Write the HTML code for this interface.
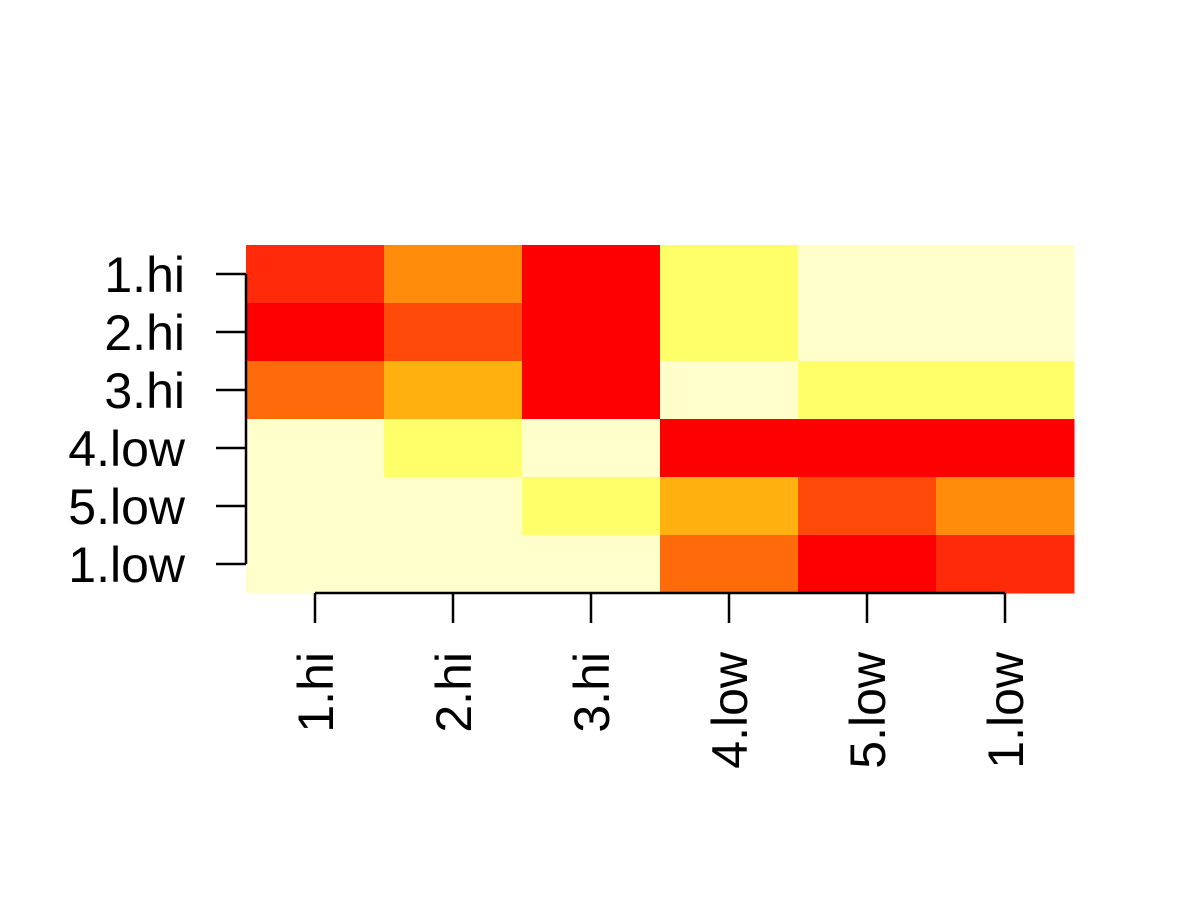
<!DOCTYPE html>
<html><head><meta charset="utf-8"><style>body{margin:0;background:#fff}svg{display:block}</style></head>
<body>
<svg id="c" width="1200" height="900" font-family="Liberation Sans, sans-serif">
<g id="cells"></g>
<g id="axes" stroke="#000" stroke-width="2.5" fill="none"></g>
<g id="labels" font-size="50" fill="#000"></g>
</svg>
<script>
const rowLabels = ["1.hi","2.hi","3.hi","4.low","5.low","1.low"];
const colLabels = ["1.hi","2.hi","3.hi","4.low","5.low","1.low"];
const palette = ["#FF0000","#FF2A0A","#FF4A0A","#FF6A0A","#FF8C0A","#FFB20F","#FFFF6A","#FFFFCC"];
const values = [
 [1,4,0,6,7,7],
 [0,2,0,6,7,7],
 [3,5,0,7,6,6],
 [7,6,7,0,0,0],
 [7,7,6,5,2,4],
 [7,7,7,3,0,1]
];
const NS="http://www.w3.org/2000/svg";
const L=246,R=1074,T=245,B=593;
const nC=colLabels.length,nR=rowLabels.length;
const cw=(R-L)/nC,rh=(B-T)/nR;
const xc=i=>L+cw*(i+0.5), yc=j=>T+rh*(j+0.5);
function mk(t,a,p){const e=document.createElementNS(NS,t);for(const k in a)e.setAttribute(k,a[k]);p.appendChild(e);return e;}
const cells=document.getElementById('cells'),axes=document.getElementById('axes'),labs=document.getElementById('labels');
values.forEach((row,j)=>row.forEach((v,i)=>{
 const r=mk('rect',{x:L+cw*i,y:T+rh*j,width:cw+0.5,height:rh+0.5,fill:palette[v]},cells);
 
 
}));
const ya=mk('line',{x1:246,x2:246,y1:yc(0),y2:yc(nR-1)},axes);


rowLabels.forEach((s,j)=>{
 const t=mk('line',{x1:216,x2:246,y1:yc(j),y2:yc(j)},axes);
 
 
 const tx=mk('text',{x:185,y:yc(j)+18,'text-anchor':'end'},labs);tx.textContent=s;
 
 
});
const xa=mk('line',{x1:xc(0),x2:xc(nC-1),y1:593,y2:593},axes);


colLabels.forEach((s,i)=>{
 const t=mk('line',{x1:xc(i),x2:xc(i),y1:593,y2:623},axes);
 
 
 const x=xc(i)+18,y=652;
 const tx=mk('text',{x:x,y:y,'text-anchor':'end',transform:`rotate(-90 ${x} ${y})`},labs);tx.textContent=s;
 
 
});
</script>
</body></html>
